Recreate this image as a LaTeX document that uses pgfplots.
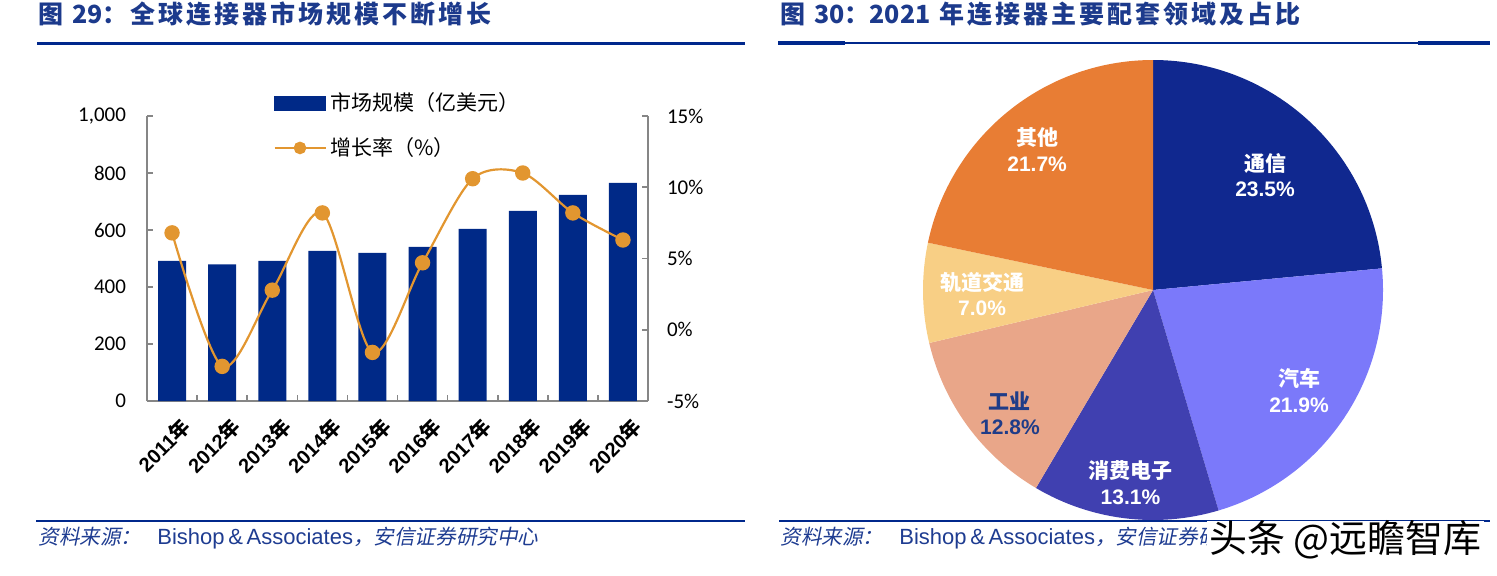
\documentclass[border=0pt]{standalone}
\usepackage{pgfplots}
\pgfplotsset{compat=1.18}
\usepackage{fontspec}
\setmainfont{Noto Sans CJK SC}
\newfontfamily\cjk{Noto Sans CJK SC}
\newfontfamily\titlef{Noto Sans CJK SC}[LetterSpace=12]
\newfontfamily\cjkslant{Noto Sans CJK SC}[FakeSlant=0.2]
\newfontfamily\tickf{Carlito}
\newfontfamily\arialf{Liberation Sans}
\definecolor{barblue}{RGB}{0,41,135}
\definecolor{lineorange}{RGB}{226,150,48}
\definecolor{titleblue}{RGB}{28,58,140}
\definecolor{rulenavy}{RGB}{0,40,140}
\definecolor{srcblue}{RGB}{30,60,145}
\definecolor{axisgray}{RGB}{134,134,134}
\definecolor{pieA}{RGB}{16,40,143}
\definecolor{pieB}{RGB}{123,121,250}
\definecolor{pieC}{RGB}{64,64,176}
\definecolor{pieD}{RGB}{233,166,137}
\definecolor{pieE}{RGB}{248,207,133}
\definecolor{pieF}{RGB}{232,125,52}
\definecolor{gylabel}{RGB}{31,60,136}
% #1 cumulative share before the slice, #2 share of the slice (percent)
\newcommand\slice[3]{\fill[#3] (axis cs:0,0) -- ++({90-3.6*(#1)}:115pt) arc[start angle={90-3.6*(#1)}, delta angle={-3.6*(#2)}, radius=115pt] -- cycle;}
\newcommand\yr[1]{{\arialf\bfseries #1}{\cjk\bfseries 年}}
\newcommand\src{{\cjkslant\fontsize{10.3}{12}\selectfont 资料来源：}\hspace{8pt}{\arialf\fontsize{11}{12}\selectfont Bishop\,\&\,Associates}{\cjkslant\fontsize{10.3}{12}\selectfont ，安信证券研究中心}}
\pgfplotsset{leftaxis/.style={at={(73.5pt,-200.5pt)}, anchor=south west, scale only axis,
  width=250.5pt, height=142.5pt, xmin=-0.5, xmax=9.5,
  axis line style={draw=axisgray, line width=0.8pt},
  tick style={draw=axisgray, line width=0.8pt}, tick align=inside, major tick length=3pt,
  /pgf/number format/assume math mode=true}}
\begin{document}
\begin{tikzpicture}
\path[use as bounding box] (0pt,0pt) rectangle (748.5pt,-287.5pt);
% titles and rules
\node[anchor=west, text=titleblue, font=\titlef\bfseries\fontsize{12.5}{14}\selectfont, inner sep=0pt] at (19pt,-7pt) {图 {\cjk\bfseries 29}：全球连接器市场规模不断增长};
\node[anchor=west, text=titleblue, font=\titlef\bfseries\fontsize{12.5}{14}\selectfont, inner sep=0pt] at (390pt,-7pt) {图 {\cjk\bfseries 30}：{\cjk\bfseries 2021} 年连接器主要配套领域及占比};
\draw[rulenavy, line width=1.5pt] (18.5pt,-21.5pt) -- (372.5pt,-21.5pt);
\draw[rulenavy, line width=1pt] (389pt,-21.5pt) -- (745pt,-21.5pt);
\draw[rulenavy, line width=1.6pt] (389pt,-21.5pt) -- (422.5pt,-21.5pt);
\draw[rulenavy, line width=1.6pt] (709pt,-21.5pt) -- (745pt,-21.5pt);
\draw[rulenavy, line width=1.2pt] (18pt,-260.5pt) -- (372.5pt,-260.5pt);
\draw[rulenavy, line width=1.2pt] (389.5pt,-260.5pt) -- (745pt,-260.5pt);
\node[anchor=west, text=srcblue, inner sep=0pt] at (19pt,-269pt) {\src};
\node[anchor=west, text=srcblue, inner sep=0pt] at (390pt,-269pt) {\src};

% bars: market size
\begin{axis}[leftaxis, ymin=0, ymax=1000, ytick={0,200,...,1000},
  axis y line*=left, axis x line*=bottom,
  xtick={0,...,9},
  xticklabels={\yr{2011},\yr{2012},\yr{2013},\yr{2014},\yr{2015},\yr{2016},\yr{2017},\yr{2018},\yr{2019},\yr{2020}},
  major x tick style={draw=none},
  minor xtick={0.5,1.5,...,8.5}, minor tick length=3pt,
  xticklabel style={rotate=45, anchor=east, font=\fontsize{10}{11}\selectfont, inner sep=1pt, yshift=-13pt, xshift=-1.5pt},
  yticklabel style={font=\tickf\fontsize{10.5}{12}\selectfont, xshift=-7pt},
  /pgf/number format/1000 sep={,}]
\addplot[ybar, bar width=14pt, fill=barblue, draw=none] coordinates {
 (0,492) (1,479) (2,492) (3,527) (4,520) (5,541) (6,604) (7,667) (8,723) (9,765)};
\end{axis}

% line: growth rate
\begin{axis}[leftaxis, ymin=-5, ymax=15, ytick={-5,0,5,10,15},
  yticklabels={-5\%,0\%,5\%,10\%,15\%},
  axis y line*=right, axis x line=none, xtick=\empty,
  yticklabel style={font=\tickf\fontsize{10.5}{12}\selectfont, anchor=west, xshift=6pt},
  legend style={draw=none, fill=none, at={(0.2515,1.098)}, anchor=north west, inner sep=0pt,
    row sep=8pt, font=\cjk\fontsize{10.5}{12}\selectfont, cells={anchor=west}},
  legend cell align=left]
\addlegendimage{legend image code/.code={\fill[barblue] (0pt,-3.5pt) rectangle (25.5pt,3.5pt);}}
\addlegendentry{市场规模（亿美元）}
\addplot[smooth, color=lineorange, line width=1.1pt, mark=*, mark size=3.3pt,
  mark options={fill=lineorange, draw=lineorange},
  legend image code/.code={\draw[lineorange, line width=1.1pt] (0pt,0pt) -- (25.5pt,0pt); \fill[lineorange] (12.75pt,0pt) circle (2.6pt);}]
 coordinates {(0,6.8) (1,-2.57) (2,2.78) (3,8.2) (4,-1.59) (5,4.7) (6,10.6) (7,11.0) (8,8.2) (9,6.3)};
\addlegendentry{增长率（\%）}
\end{axis}

% pie
\begin{axis}[at={(576.5pt,-145pt)}, anchor=center, scale only axis, width=230pt, height=230pt,
  xmin=-1, xmax=1, ymin=-1, ymax=1, hide axis, clip=false]
\slice{0}{23.5}{pieA}
\slice{23.5}{21.9}{pieB}
\slice{45.4}{13.1}{pieC}
\slice{58.5}{12.8}{pieD}
\slice{71.3}{7.0}{pieE}
\slice{78.3}{21.7}{pieF}
\tikzset{pl/.style={align=center, inner sep=0pt, font=\fontsize{10.5}{12.8}\selectfont}}
\node[pl, text=white] at (axis cs:0.487,0.50) {{\cjk\bfseries 通信}\\{\arialf\bfseries 23.5\%}};
\node[pl, text=white] at (axis cs:0.635,-0.437) {{\cjk\bfseries 汽车}\\{\arialf\bfseries 21.9\%}};
\node[pl, text=white] at (axis cs:-0.098,-0.837) {{\cjk\bfseries 消费电子}\\{\arialf\bfseries 13.1\%}};
\node[pl, text=gylabel] at (axis cs:-0.622,-0.535) {{\cjk\bfseries 工业}\\{\arialf\bfseries 12.8\%}};
\node[pl, text=white] at (axis cs:-0.743,-0.017) {{\cjk\bfseries 轨道交通}\\{\arialf\bfseries 7.0\%}};
\node[pl, text=white] at (axis cs:-0.504,0.611) {{\cjk\bfseries 其他}\\{\arialf\bfseries 21.7\%}};
\end{axis}

% watermark
\node[anchor=east, inner xsep=1pt, inner ysep=0pt, fill=white, font=\cjk\fontsize{19}{21}\selectfont] at (742pt,-270pt) {头条 @远瞻智库};
\end{tikzpicture}
\end{document}
